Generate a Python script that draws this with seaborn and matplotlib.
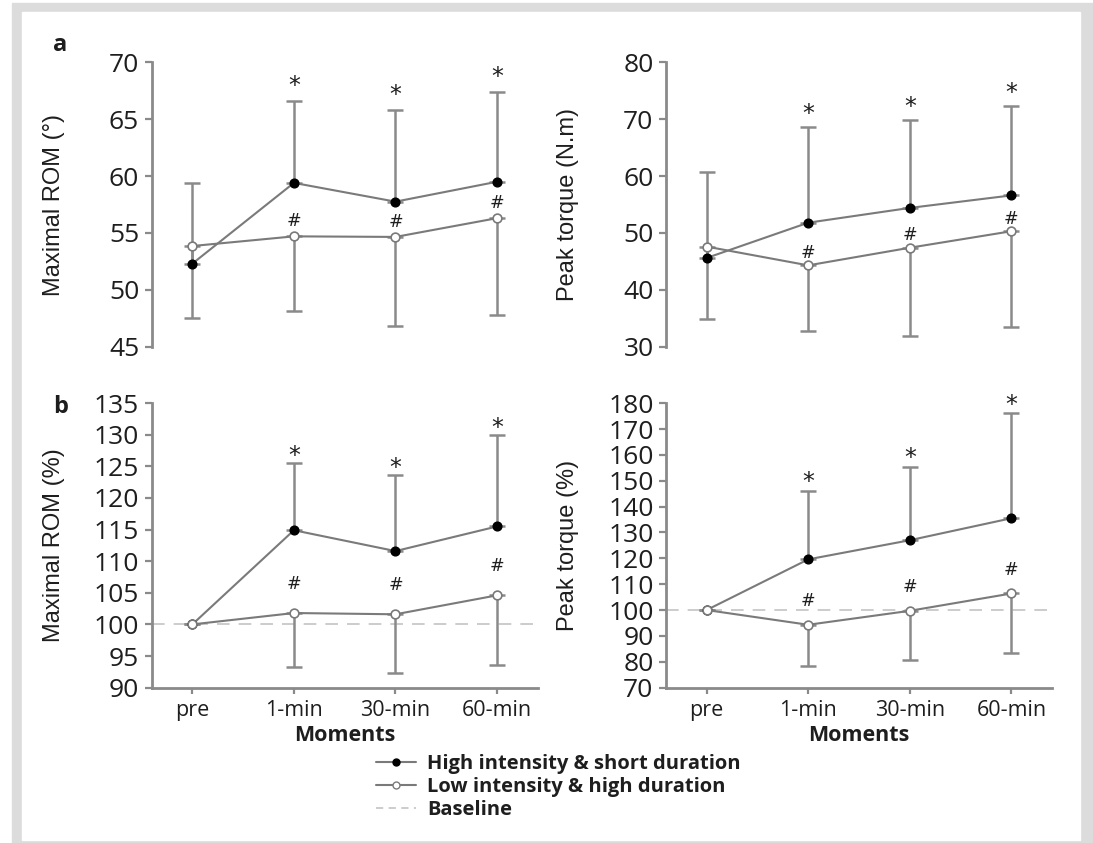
import numpy as np
import pandas as pd
import matplotlib
matplotlib.use("Agg")
import matplotlib.pyplot as plt
from matplotlib.lines import Line2D
from matplotlib.patches import Rectangle
from matplotlib import font_manager
import seaborn as sns

moments = ["pre", "1-min", "30-min", "60-min"]

# panel a: absolute values
rom_high = [52.3, 59.4, 57.75, 59.5]
rom_high_sd = [7.1, 7.2, 8.05, 7.9]
rom_low = [53.85, 54.7, 54.65, 56.3]
rom_low_sd = [6.35, 6.6, 7.85, 8.5]

torque_high = [45.6, 51.8, 54.4, 56.6]
torque_high_sd = [15.1, 16.9, 15.5, 15.8]
torque_low = [47.6, 44.3, 47.4, 50.3]
torque_low_sd = [12.8, 11.5, 15.6, 16.8]

# panel b: relative to pre (%)
rom_pct_high = [100, 114.9, 111.6, 115.5]
rom_pct_high_sd = [np.nan, 10.7, 12.0, 14.5]
rom_pct_low = [100, 101.8, 101.6, 104.6]
rom_pct_low_sd = [np.nan, 8.5, 9.3, 11.05]

torque_pct_high = [100, 119.6, 127.0, 135.5]
torque_pct_high_sd = [np.nan, 26.6, 28.5, 40.7]
torque_pct_low = [100, 94.3, 99.7, 106.4]
torque_pct_low_sd = [np.nan, 15.8, 19.1, 22.9]

star_marks = [False, True, True, True]
hash_marks = [False, True, True, True]

sns.set_theme(style="white")
installed = {f.name for f in font_manager.fontManager.ttflist}
narrow = "Liberation Sans Narrow" if "Liberation Sans Narrow" in installed else "Liberation Sans"
plt.rcParams["font.family"] = ["Open Sans", "DejaVu Sans"]

GRAY = "#8a8a8a"
LINE = "#7a7a7a"
TXT = "#1e1e1e"

fig = plt.figure(figsize=(10.93, 8.43), dpi=100)
fig.patches.append(Rectangle((12 / 1093, 0), 1 - 12 / 1093, 1 - 3 / 843,
                             transform=fig.transFigure, color="#dcdcdc", zorder=-2))
fig.patches.append(Rectangle((22 / 1093, 3 / 843), (1080 - 22) / 1093, (840 - 12) / 843,
                             transform=fig.transFigure, color="white", zorder=-1))

H = 284.4 / 843
W = 386 / 1093
axes = {
    "aL": fig.add_axes([151.7 / 1093, 1 - 346.7 / 843, W, H]),
    "aR": fig.add_axes([666 / 1093, 1 - 346.7 / 843, W, H]),
    "bL": fig.add_axes([151.7 / 1093, 1 - 687.6 / 843, W, H]),
    "bR": fig.add_axes([666 / 1093, 1 - 687.6 / 843, W, H]),
}

panels = [
    ("aL", rom_high, rom_high_sd, rom_low, rom_low_sd, (45, 70), np.arange(45, 71, 5), "Maximal ROM (°)", 11, 11),
    ("aR", torque_high, torque_high_sd, torque_low, torque_low_sd, (30, 80), np.arange(30, 81, 10), "Peak torque (N.m)", 9, 9),
    ("bL", rom_pct_high, rom_pct_high_sd, rom_pct_low, rom_pct_low_sd, (90, 135), np.arange(90, 136, 5), "Maximal ROM (%)", 5, 21),
    ("bR", torque_pct_high, torque_pct_high_sd, torque_pct_low, torque_pct_low_sd, (70, 180), np.arange(70, 181, 10), "Peak torque (%)", 6, 17),
]

for key, hi, hi_sd, lo, lo_sd, ylim, yticks, ylabel, star_off, hash_off in panels:
    ax = axes[key]
    hi = np.array(hi, float)
    lo = np.array(lo, float)
    hi_sd = np.array(hi_sd, float)
    lo_sd = np.array(lo_sd, float)
    x = np.arange(len(moments))

    if key.startswith("b"):
        ax.axhline(100, color="#c8c8c8", lw=1.3, ls=(0, (7, 5)), zorder=0)

    ax.errorbar(x, hi, yerr=[np.zeros_like(hi_sd), hi_sd], fmt="none",
                ecolor=GRAY, elinewidth=1.8, capsize=6, capthick=1.8, zorder=1)
    ax.errorbar(x, lo, yerr=[lo_sd, np.zeros_like(lo_sd)], fmt="none",
                ecolor=GRAY, elinewidth=1.8, capsize=6, capthick=1.8, zorder=1)

    df = pd.DataFrame({"x": x, "high": hi, "low": lo})
    sns.lineplot(data=df, x="x", y="high", ax=ax, color=LINE, lw=1.5, marker="o",
                 markersize=6.3, markerfacecolor="black", markeredgecolor="black",
                 markeredgewidth=1, zorder=3)
    sns.lineplot(data=df, x="x", y="low", ax=ax, color=LINE, lw=1.5, marker="o",
                 markersize=6.3, markerfacecolor="white", markeredgecolor=LINE,
                 markeredgewidth=1.2, zorder=3)

    for i in range(len(moments)):
        if star_marks[i]:
            ax.annotate("*", (x[i], hi[i] + hi_sd[i]), xytext=(0, star_off),
                        textcoords="offset points", ha="center", va="center",
                        fontsize=17, color=TXT, family=["DejaVu Sans"])
        if hash_marks[i]:
            ax.annotate("#", (x[i], lo[i]), xytext=(0, hash_off),
                        textcoords="offset points", ha="center", va="center",
                        fontsize=12.5, color=TXT, family=["DejaVu Sans"])

    ax.set_xlim(-0.4, 3.4)
    ax.set_ylim(*ylim)
    ax.set_yticks(yticks)
    ax.tick_params(axis="y", direction="out", length=5, width=1.6, color=GRAY,
                   labelsize=19, labelcolor=TXT, pad=4, left=True)
    ax.set_ylabel(ylabel, fontsize=17, family=[narrow, "DejaVu Sans"], color=TXT)
    ax.yaxis.set_label_coords(-0.225, 0.5)
    ax.spines["top"].set_visible(False)
    ax.spines["right"].set_visible(False)
    ax.spines["left"].set_color(GRAY)
    ax.spines["left"].set_linewidth(2)
    if key.startswith("a"):
        ax.spines["bottom"].set_visible(False)
        ax.set_xticks([])
        ax.set_xlabel("")
    else:
        ax.spines["bottom"].set_color(GRAY)
        ax.spines["bottom"].set_linewidth(2)
        ax.set_xticks(x)
        ax.set_xticklabels(moments)
        ax.tick_params(axis="x", direction="out", length=4, width=1.6, color=GRAY,
                       labelsize=15.5, labelcolor=TXT, pad=5, bottom=True)
        ax.set_xlabel("Moments", fontsize=15.5, fontweight="bold", color=TXT, labelpad=3)

fig.text(53 / 1093, 1 - 45 / 843, "a", fontsize=17, fontweight="bold", va="center", color=TXT)
fig.text(53 / 1093, 1 - 407 / 843, "b", fontsize=17, fontweight="bold", va="center", color=TXT)

handles = [
    Line2D([], [], color=LINE, lw=1.5, marker="o", markersize=5,
           markerfacecolor="black", markeredgecolor="black"),
    Line2D([], [], color=LINE, lw=1.5, marker="o", markersize=5,
           markerfacecolor="white", markeredgecolor=LINE),
    Line2D([], [], color="#c8c8c8", lw=1.3, ls=(0, (4, 3))),
]
labels = ["High intensity & short duration", "Low intensity & high duration", "Baseline"]
leg = fig.legend(handles, labels, loc="center left", bbox_to_anchor=(358 / 1093, 1 - 787 / 843),
                 frameon=False, fontsize=14.5, handlelength=2.0, handletextpad=0.55,
                 labelspacing=0.15)
for t in leg.get_texts():
    t.set_fontweight("bold")
    t.set_color(TXT)

fig.savefig("out.png", dpi=100)
